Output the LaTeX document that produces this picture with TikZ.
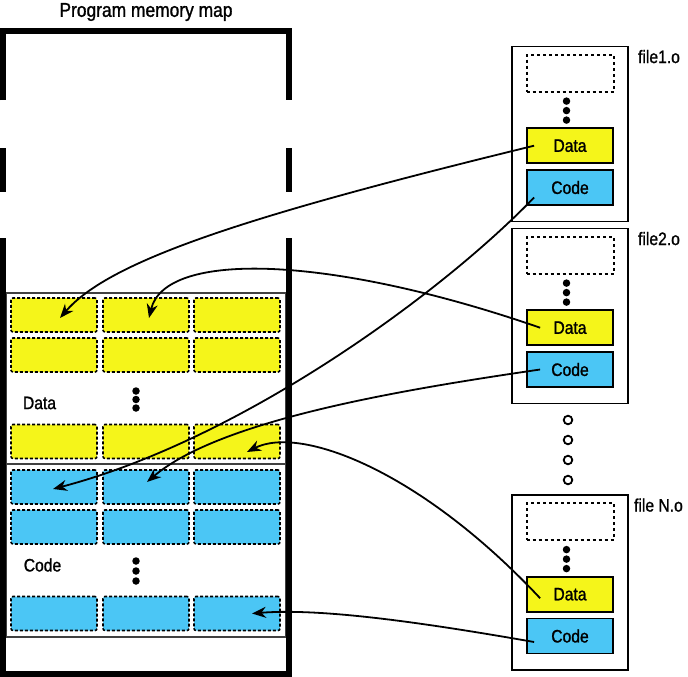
\documentclass[tikz,border=0pt]{standalone}
\usepackage{fontspec}
\setmainfont{Liberation Sans}[FakeStretch=0.87,FakeBold=1.2]
\usetikzlibrary{arrows.meta,positioning}

\definecolor{datayellow}{HTML}{F5F51A}
\definecolor{codeblue}{HTML}{4BC6F5}

\begin{document}
\begin{tikzpicture}[x=1pt,y=1pt,>={Stealth[length=14pt,width=11pt,inset=4.5pt]},
  wall/.style={line width=6pt},
  cell/.style={draw,line width=1.6pt,dash pattern=on 3pt off 2pt,rounded corners=2pt,
    minimum width=86pt,minimum height=34pt,inner sep=0pt},
  datacell/.style={cell,fill=datayellow},
  codecell/.style={cell,fill=codeblue},
  label text/.style={font=\fontsize{18}{20}\selectfont,inner sep=0pt},
  file box/.style={draw,line width=1.8pt,minimum width=116pt,minimum height=175pt,inner sep=0pt},
  slot/.style={draw,line width=1.8pt,minimum width=86pt,minimum height=35pt,inner sep=0pt,
    font=\fontsize{18}{20}\selectfont},
  empty slot/.style={draw,line width=2pt,dash pattern=on 3pt off 3pt,
    minimum width=87pt,minimum height=37pt,inner sep=0pt},
  dot/.style={circle,fill=black,inner sep=0pt,minimum size=7.5pt},
  link/.style={->,line width=1.8pt}]

  \useasboundingbox (0,0) rectangle (688,-677);

  % memory map
  \node[font=\fontsize{20}{24}\selectfont,inner sep=0pt] (title) at (146,-12) {Program memory map};
  \draw[wall] (3,-100) |- (289,-31) -- (289,-100);
  \draw[wall] (3,-148) -- (3,-192) (289,-148) -- (289,-192);
  \draw[wall] (3,-238) |- (289,-673.5) -- (289,-238);
  \draw[line width=1.2pt,black!75] (6.5,-293) rectangle (285.5,-637) (6.5,-464) -- (285.5,-464);

  \foreach \row/\y in {1/315,2/355,3/441.5}
    \foreach \col/\x in {1/54,2/146,3/237}
      \node[datacell] (d\row\col) at (\x,-\y) {};
  \foreach \row/\y in {1/487,2/527,3/613.5}
    \foreach \col/\x in {1/54,2/146,3/237}
      \node[codecell] (c\row\col) at (\x,-\y) {};

  \node[label text] (datalabel) at (39.5,-403) {Data};
  \node[label text] (codelabel) at (42.5,-565) {Code};
  \foreach \n/\y in {1/391,2/399.5,3/408}
    \node[dot] (ddot\n) at (136,-\y) {};
  \foreach \n/\y in {1/561,2/571,3/581}
    \node[dot] (cdot\n) at (136,-\y) {};

  % object files
  \foreach \f/\y/\name/\dx in {f1/134/file1.o/9,f2/316/file2.o/9,fN/582.5/file N.o/5} {
    \node[file box] (\f) at (570,-\y) {};
    \node[empty slot,below=8pt of \f.north] (\f blank) {};
    \node[slot,fill=codeblue,above=16.5pt of \f.south] (\f code) {Code};
    \node[slot,fill=datayellow,above=5pt of \f code] (\f data) {Data};
    \foreach \k/\d in {1/8.5,2/18,3/27.5}
      \node[dot] (\f dot\k) at ([xshift=-3.5pt,yshift=-\d pt]\f blank.south) {};
    \node[label text,anchor=west] (\f name) at ([xshift=\dx pt,yshift=-11pt]\f.north east) {\name};
  }
  \foreach \y in {420,440,460,480}
    \draw[line width=1.8pt] (568,-\y) circle (4.3pt);

  % links
  \draw[link] ([xshift=8pt]f1data.west) .. controls (250,-215) and (110,-260) .. ([xshift=6pt,yshift=-3pt]d11.center);
  \draw[link] ([xshift=14pt]f2data.west) .. controls (330,-255) and (165,-250) .. ([xshift=3pt,yshift=-3pt]d12.center);
  \draw[link] ([xshift=8pt,yshift=-10pt]f1code.west) .. controls (440,-295) and (240,-440) .. ([xshift=-1pt,yshift=-2pt]c11.center);
  \draw[link] ([xshift=14pt]f2code.west) .. controls (400,-390) and (220,-420) .. ([xshift=1pt,yshift=5pt]c12.center);
  \draw[link] ([xshift=14pt,yshift=-4pt]fNdata.west) .. controls (420,-470) and (300,-425) .. ([xshift=10pt,yshift=-10.5pt]d33.center);
  \draw[link] ([xshift=8pt,yshift=-6pt]fNcode.west) .. controls (420,-622) and (320,-608) .. ([xshift=15pt]c33.center);
\end{tikzpicture}
\end{document}
